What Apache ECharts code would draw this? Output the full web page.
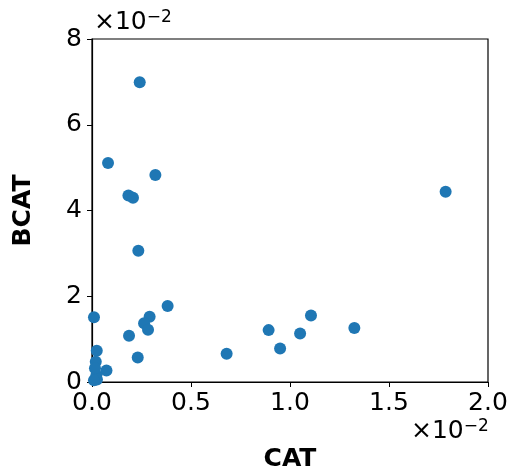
<!DOCTYPE html>
<html>
<head>
<meta charset="utf-8">
<script src="https://cdn.jsdelivr.net/npm/echarts@6/dist/echarts.min.js"></script>
<style>
  html, body { margin: 0; padding: 0; background: #fff; }
</style>
</head>
<body>
<div id="chart" style="width: 511px; height: 470px;"></div>
<script>
// CAT / BCAT values
const catValues = [
  0.00241, 0.00081, 0.00320, 0.00184, 0.00207, 0.01786, 0.00234, 0.00382,
  0.00010, 0.00291, 0.00263, 0.00283, 0.00187, 0.01106, 0.00892, 0.01051,
  0.01325, 0.00950, 0.00680, 0.00231, 0.00024, 0.00019, 0.00073, 0.00022,
  0.00015, 0.00025, 0.00010
];
const bcatValues = [
  0.0699, 0.0511, 0.0483, 0.0435, 0.0430, 0.0444, 0.0306, 0.0177,
  0.0151, 0.0152, 0.0137, 0.0122, 0.0108, 0.0155, 0.0121, 0.0113,
  0.0126, 0.0078, 0.0066, 0.0057, 0.0073, 0.0047, 0.0027, 0.0016,
  0.0032, 0.0006, 0.0004
];
const xTicks = [0, 0.0025, 0.005, 0.0075, 0.01, 0.0125, 0.015, 0.0175, 0.02];
const yTicks = [0, 0.02, 0.04, 0.06, 0.08];

const points = catValues.map((x, i) => [x, bcatValues[i]]);

const chart = echarts.init(document.getElementById("chart"));
const font = "DejaVu Sans";

const option = {
  animation: false,
  grid: {
    left: 92, top: 39, right: 23, bottom: 88,
    outerBoundsMode: "none",
    show: true, borderColor: "#000", borderWidth: 1.2
  },
  xAxis: {
    type: "value",
    min: xTicks[0],
    max: xTicks[xTicks.length - 1],
    interval: 0.005,
    name: "CAT",
    nameLocation: "middle",
    nameGap: 65,
    nameTextStyle: { fontFamily: font, fontSize: 25, fontWeight: "bold", color: "#000" },
    axisLine: { show: true, lineStyle: { color: "#000", width: 1.2 } },
    axisTick: { show: true, length: 5, lineStyle: { color: "#000" } },
    splitLine: { show: false },
    axisLabel: {
      fontFamily: font, fontSize: 25, color: "#000", margin: 9,
      formatter: v => (v * 100).toFixed(1)
    }
  },
  yAxis: {
    type: "value",
    min: yTicks[0],
    max: yTicks[yTicks.length - 1],
    interval: 0.02,
    name: "BCAT",
    nameLocation: "middle",
    nameGap: 56,
    nameTextStyle: { fontFamily: font, fontSize: 25, fontWeight: "bold", color: "#000" },
    axisLine: { show: true, lineStyle: { color: "#000", width: 1.2 } },
    axisTick: { show: true, length: 5, lineStyle: { color: "#000" } },
    splitLine: { show: false },
    axisLabel: {
      fontFamily: font, fontSize: 25, color: "#000", margin: 10,
      formatter: v => String(Math.round(v * 100))
    }
  },
  graphic: [
    {
      type: "text", left: 94, top: 9,
      style: {
        text: "{a|×10}{b|−2}",
        rich: {
          a: { fontFamily: font, fontSize: 25, fill: "#000" },
          b: { fontFamily: font, fontSize: 17, fill: "#000", verticalAlign: "top", padding: [0, 0, 10, 0] }
        }
      }
    },
    {
      type: "text", left: 411, top: 418,
      style: {
        text: "{a|×10}{b|−2}",
        rich: {
          a: { fontFamily: font, fontSize: 25, fill: "#000" },
          b: { fontFamily: font, fontSize: 17, fill: "#000", verticalAlign: "top", padding: [0, 0, 10, 0] }
        }
      }
    }
  ],
  series: [
    {
      type: "scatter",
      data: points,
      symbolSize: 12,
      itemStyle: { color: "#1f77b4", opacity: 1 }
    }
  ]
};

chart.setOption(option);
</script>
</body>
</html>
